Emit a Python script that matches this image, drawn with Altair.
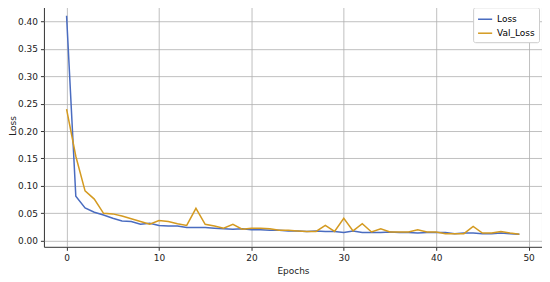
import altair as alt
import pandas as pd

epochs = list(range(50))
loss = [0.41, 0.081, 0.060, 0.052, 0.047, 0.041, 0.036, 0.035, 0.030, 0.032,
        0.028, 0.027, 0.027, 0.024, 0.024, 0.024, 0.023, 0.022, 0.021, 0.022,
        0.020, 0.020, 0.019, 0.019, 0.018, 0.018, 0.017, 0.018, 0.017, 0.017,
        0.015, 0.018, 0.015, 0.015, 0.015, 0.016, 0.015, 0.015, 0.014, 0.015,
        0.015, 0.015, 0.013, 0.014, 0.014, 0.013, 0.013, 0.014, 0.013, 0.012]
val_loss = [0.24, 0.154, 0.091, 0.076, 0.050, 0.049, 0.045, 0.040, 0.035, 0.030,
            0.037, 0.035, 0.031, 0.028, 0.059, 0.030, 0.027, 0.023, 0.030, 0.021,
            0.023, 0.023, 0.022, 0.019, 0.019, 0.018, 0.017, 0.017, 0.028, 0.017,
            0.041, 0.018, 0.031, 0.016, 0.022, 0.016, 0.016, 0.016, 0.020, 0.016,
            0.016, 0.013, 0.013, 0.013, 0.026, 0.014, 0.014, 0.017, 0.014, 0.012]
series_names = ["Loss", "Val_Loss"]
series_colors = ["#4a6cc0", "#d49a20"]
x_ticks = [0, 10, 20, 30, 40, 50]
y_ticks = [0.0, 0.05, 0.10, 0.15, 0.20, 0.25, 0.30, 0.35, 0.40]

rows = []
for e, a, b in zip(epochs, loss, val_loss):
    rows.append({"Epochs": e, "value": a, "series": "Loss"})
    rows.append({"Epochs": e, "value": b, "series": "Val_Loss"})
df = pd.DataFrame(rows)

chart = alt.Chart(df).mark_line(strokeWidth=1.5).encode(
    x=alt.X("Epochs:Q",
            scale=alt.Scale(domain=[-2.45, 51.45], nice=False, zero=False),
            axis=alt.Axis(values=x_ticks, title="Epochs", format="d")),
    y=alt.Y("value:Q",
            scale=alt.Scale(domain=[-0.011, 0.431], nice=False, zero=False),
            axis=alt.Axis(values=y_ticks, title="Loss", format=".2f",
                          titleX=-35, titleBaseline="top")),
    color=alt.Color("series:N",
                    scale=alt.Scale(domain=series_names, range=series_colors),
                    legend=alt.Legend(title=None, orient="top-right",
                                      symbolType="stroke", symbolStrokeWidth=1.5,
                                      fillColor="white", strokeColor="#cccccc",
                                      padding=4, offset=3, cornerRadius=2,
                                      labelFontSize=9, symbolSize=200,
                                      rowPadding=1, labelOffset=4)),
).properties(
    width=499, height=243,
    autosize=alt.AutoSizeParams(type="none"),
    padding={"left": 36, "top": -4, "right": 0, "bottom": 35},
).configure_view(
    stroke="#333333", strokeWidth=1
).configure_axis(
    grid=True, gridColor="#b0b0b0", gridWidth=0.8,
    domain=False, tickColor="#333333", tickSize=3.5,
    labelFont="DejaVu Sans", labelFontSize=9, labelColor="#222222",
    titleFont="DejaVu Sans", titleFontSize=9, titleFontWeight="normal",
    titleColor="#222222", labelPadding=3
).configure_legend(
    labelFont="DejaVu Sans"
)

chart.save("out.html", embed_options={"renderer": "svg", "actions": False})
